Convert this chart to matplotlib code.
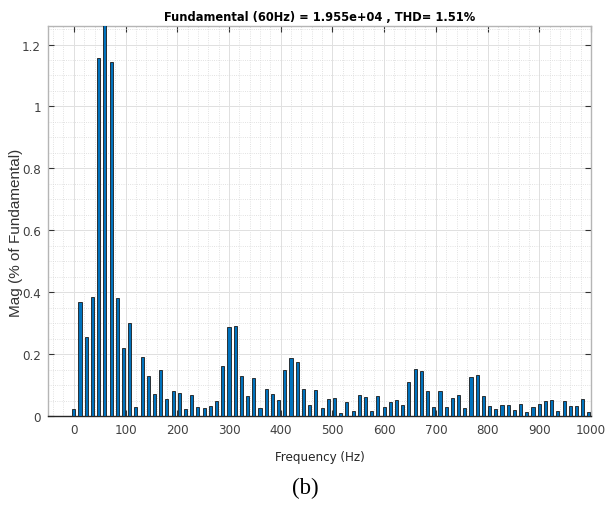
import numpy as np
import matplotlib
matplotlib.use('Agg')
import matplotlib.pyplot as plt
from matplotlib.ticker import MultipleLocator

# FFT bins (12 Hz resolution) and magnitudes in % of fundamental
freq_hz = [0, 12, 24, 36, 48, 60, 72, 84, 96, 108, 120, 132, 144, 156, 168, 180,
           192, 204, 216, 228, 240, 252, 264, 276, 288, 300, 312, 324, 336, 348,
           360, 372, 384, 396, 408, 420, 432, 444, 456, 468, 480, 492, 504, 516,
           528, 540, 552, 564, 576, 588, 600, 612, 624, 636, 648, 660, 672, 684,
           696, 708, 720, 732, 744, 756, 768, 780, 792, 804, 816, 828, 840, 852,
           864, 876, 888, 900, 912, 924, 936, 948, 960, 972, 984, 996]
mag_pct = [0.021, 0.368, 0.255, 0.386, 1.157, 100.0, 1.143, 0.380, 0.219, 0.301,
           0.030, 0.189, 0.129, 0.070, 0.147, 0.054, 0.082, 0.073, 0.022, 0.068,
           0.029, 0.026, 0.031, 0.047, 0.161, 0.288, 0.291, 0.130, 0.066, 0.123,
           0.027, 0.086, 0.071, 0.053, 0.150, 0.187, 0.174, 0.088, 0.035, 0.085,
           0.027, 0.056, 0.058, 0.011, 0.046, 0.015, 0.069, 0.061, 0.016, 0.063,
           0.029, 0.044, 0.051, 0.034, 0.110, 0.151, 0.145, 0.081, 0.029, 0.080,
           0.030, 0.058, 0.068, 0.026, 0.126, 0.134, 0.065, 0.032, 0.024, 0.034,
           0.034, 0.019, 0.040, 0.014, 0.029, 0.038, 0.048, 0.051, 0.017, 0.048,
           0.033, 0.033, 0.054, 0.012]

titulo = 'Fundamental (60Hz) = 1.955e+04 , THD= 1.51%'
ytick_pos = [0, 0.2, 0.4, 0.6, 0.8, 1.0, 1.2]
ytick_txt = ['0', '0.2', '0.4', '0.6', '0.8', '1', '1.2']

fuente = ['DejaVu Sans']
estirar = 'condensed'

fig = plt.figure(figsize=(6.05, 5.06), dpi=100)
ax = fig.add_axes([0.0793, 0.1759, 0.8975, 0.7708])

ax.bar(freq_hz, mag_pct, width=6, color='#0072BD', edgecolor='#1a1a1a',
       linewidth=0.6, zorder=3)

ax.set_xlim(-50, 1000)
ax.set_ylim(0, 1.26)
ax.xaxis.set_major_locator(MultipleLocator(100))
ax.xaxis.set_minor_locator(MultipleLocator(20))
ax.yaxis.set_minor_locator(MultipleLocator(0.05))
ax.set_yticks(ytick_pos)
ax.set_yticklabels(ytick_txt)

ax.grid(which='major', color='#e0e0e0', linewidth=0.7, linestyle='-', zorder=0)
ax.grid(which='minor', color='#d8d8d8', linewidth=0.6, linestyle=':', zorder=0)

ax.tick_params(which='major', direction='in', length=4, width=0.8, color='#333333',
               top=True, right=True, labelsize=9.5, labelcolor='#404040', pad=5)
ax.tick_params(which='minor', length=0)
for lab in ax.get_xticklabels() + ax.get_yticklabels():
    lab.set_family(fuente)
    lab.set_stretch(estirar)

for lado in ['left', 'top', 'right']:
    ax.spines[lado].set_color('#b5b5b5')
    ax.spines[lado].set_linewidth(1.0)
ax.spines['bottom'].set_color('#262626')
ax.spines['bottom'].set_linewidth(1.0)

ax.set_title(titulo, family=fuente, stretch=estirar, fontsize=9.2,
             fontweight='bold', pad=4)
ax.set_xlabel('Frequency (Hz)', family=fuente, stretch=estirar, fontsize=9.5,
              color='#262626', labelpad=10)
ax.set_ylabel('Mag (% of Fundamental)', family=['Liberation Sans', 'DejaVu Sans'],
              fontsize=11, color='#333333')
ax.yaxis.set_label_coords(-0.046, 0.472)

fig.text(0.505, 0.035, '(b)', family=['Liberation Serif', 'DejaVu Serif'],
         fontsize=16.5, ha='center', va='center')

fig.savefig('out.png', dpi=100)
